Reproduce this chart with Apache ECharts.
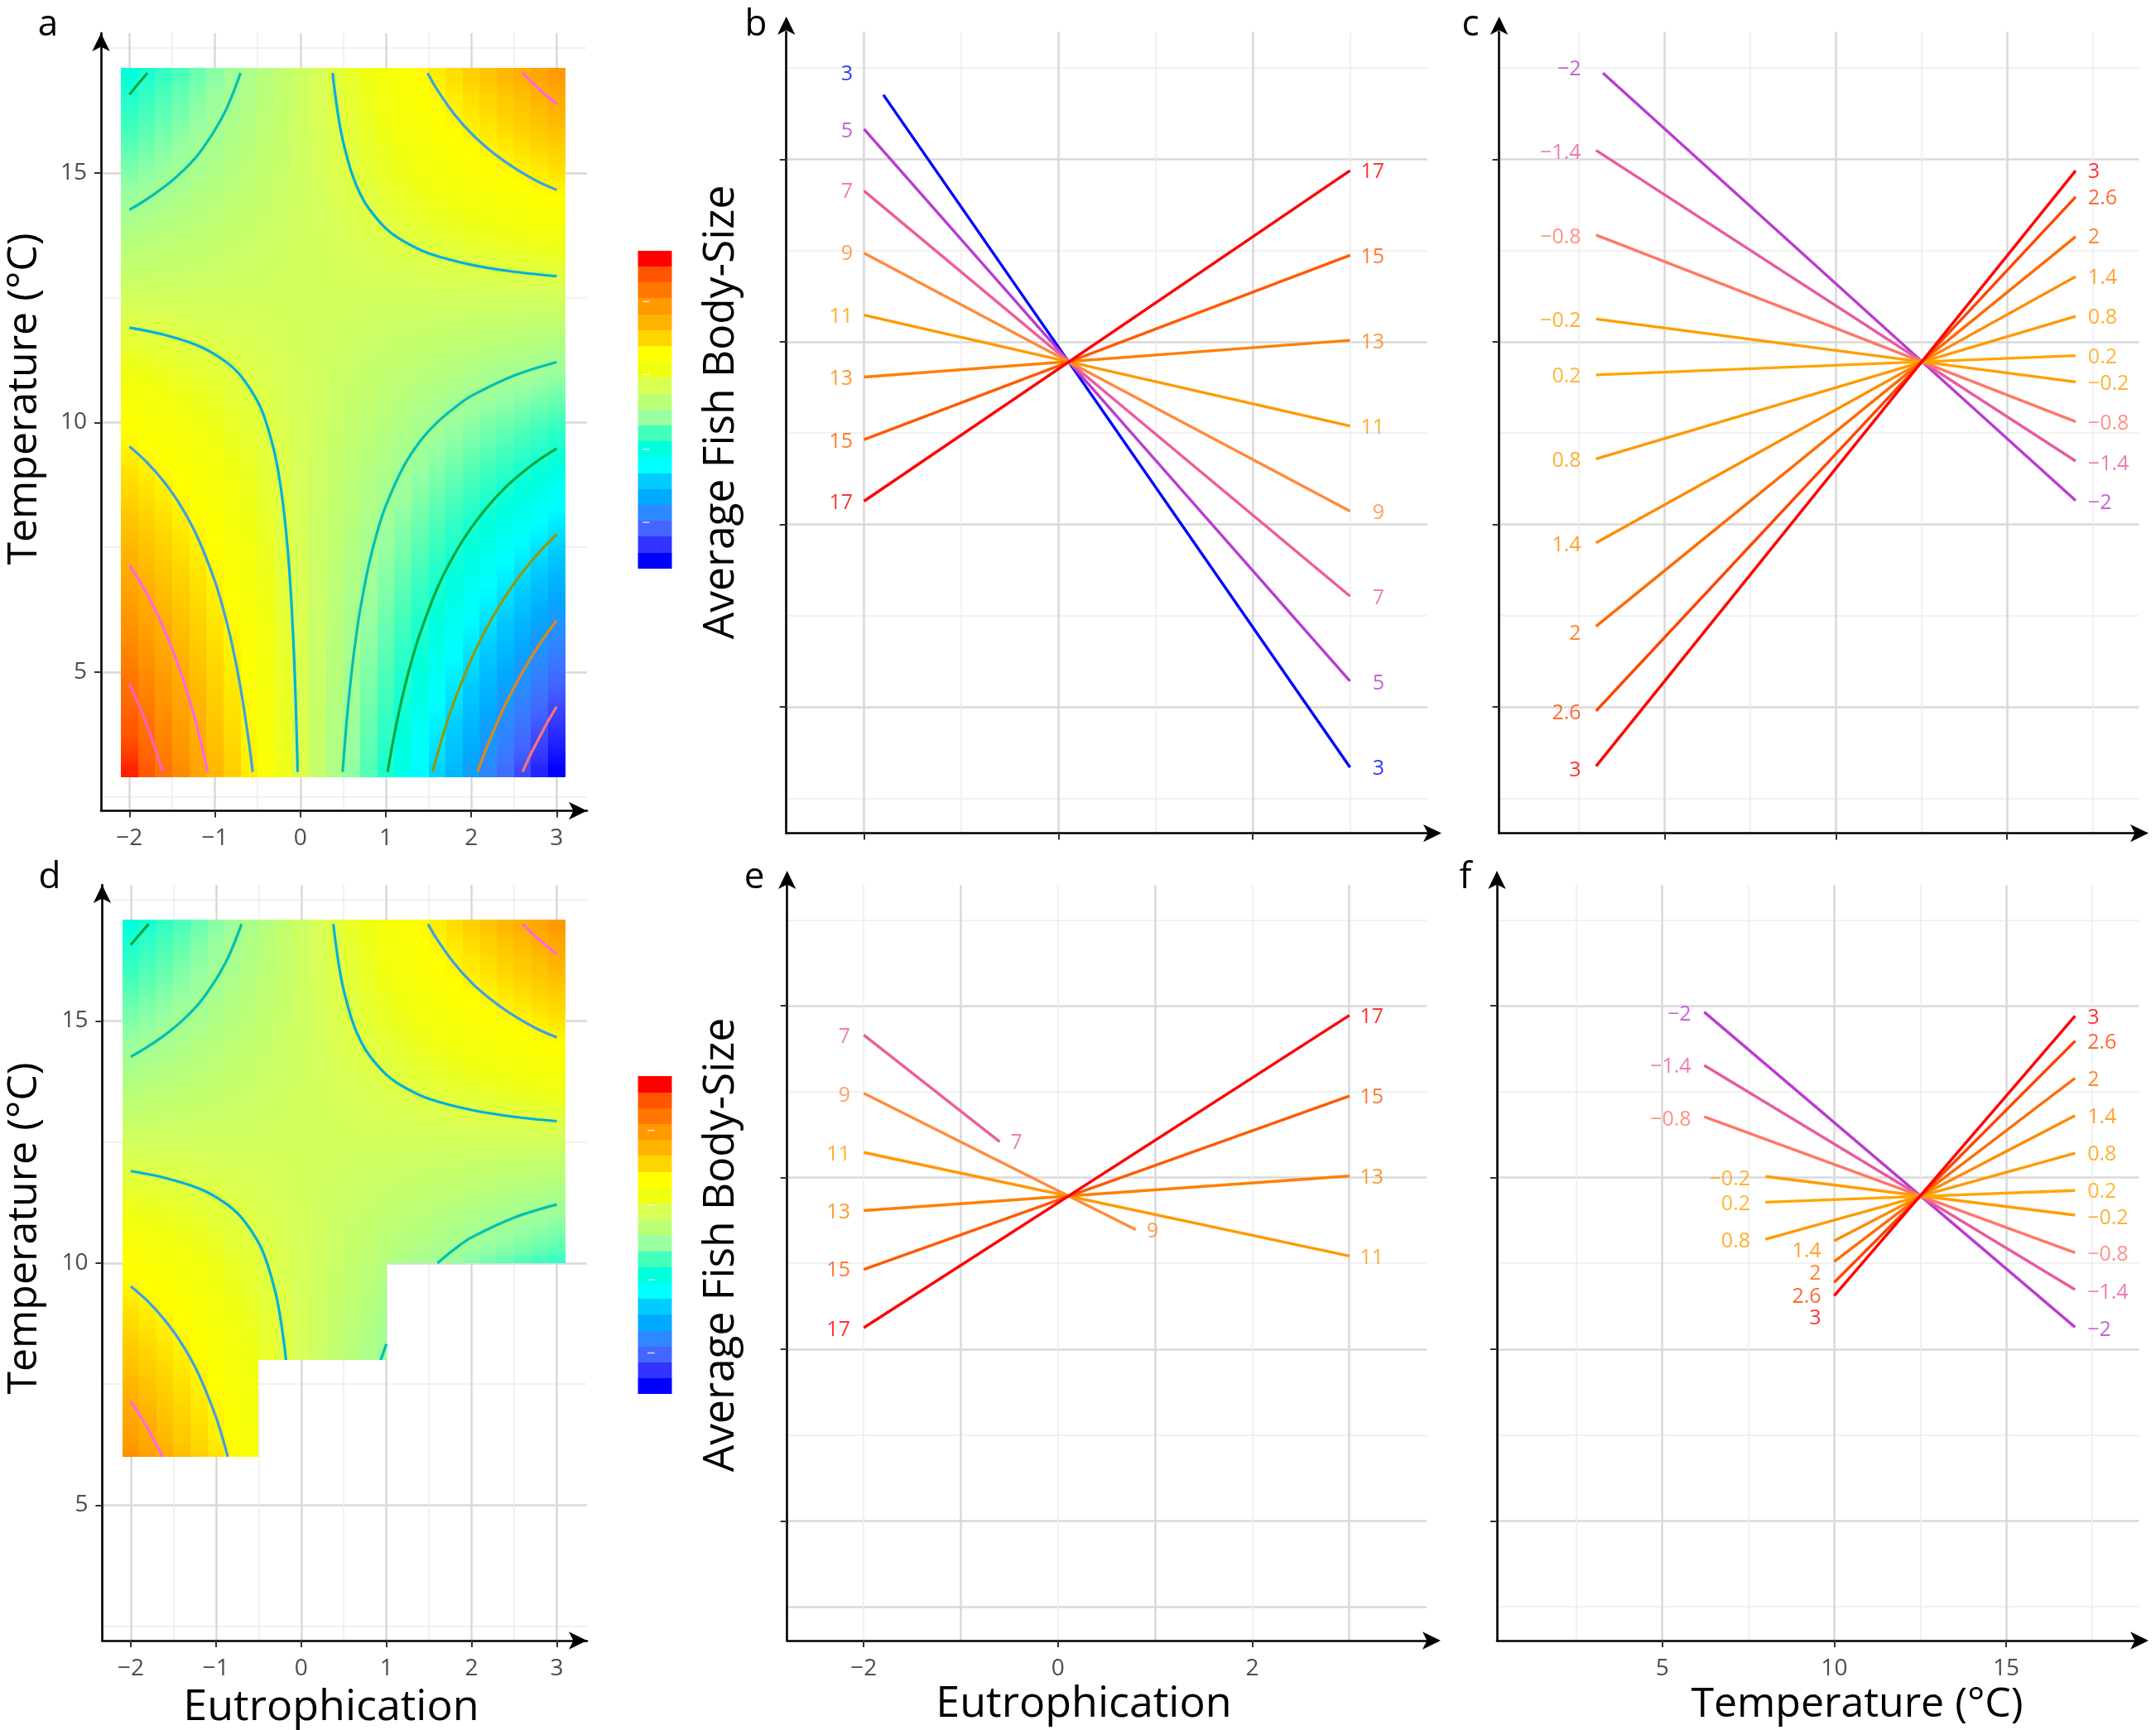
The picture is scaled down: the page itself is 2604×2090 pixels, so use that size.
<!DOCTYPE html>
<html><head><meta charset="utf-8">
<style>html,body{margin:0;padding:0;background:#fff}#c{width:2604px;height:2090px}</style>
<script src="https://cdn.jsdelivr.net/npm/echarts@6/dist/echarts.min.js"></script>
</head><body><div id="c"></div>
<script>
const heatE = [-2,-1.8,-1.6,-1.4,-1.2,-1,-0.8,-0.6,-0.4,-0.2,0,0.2,0.4,0.6,0.8,1,1.2,1.4,1.6,1.8,2,2.2,2.4,2.6,2.8,3];
const heatT = [3,3.5,4,4.5,5,5.5,6,6.5,7,7.5,8,8.5,9,9.5,10,10.5,11,11.5,12,12.5,13,13.5,14,14.5,15,15.5,16,16.5,17];
const heatRows = [
[20,18.1,16.2,14.3,12.4,10.5,8.6,6.7,4.8,2.9,1,-1,-2.9,-4.8,-6.7,-8.6,-10.5,-12.4,-14.3,-16.2,-18.1,-20,-21.9,-23.8,-25.7,-27.6],
[18.9,17.1,15.3,13.5,11.7,9.9,8.1,6.3,4.5,2.7,0.9,-0.9,-2.7,-4.5,-6.3,-8.1,-9.9,-11.7,-13.5,-15.3,-17.1,-18.9,-20.7,-22.5,-24.3,-26.1],
[17.9,16.2,14.5,12.8,11.1,9.4,7.7,6,4.3,2.6,0.9,-0.9,-2.6,-4.3,-6,-7.7,-9.4,-11.1,-12.8,-14.5,-16.2,-17.9,-19.6,-21.3,-23,-24.7],
[16.8,15.2,13.6,12,10.4,8.8,7.2,5.6,4,2.4,0.8,-0.8,-2.4,-4,-5.6,-7.2,-8.8,-10.4,-12,-13.6,-15.2,-16.8,-18.4,-20,-21.6,-23.2],
[15.8,14.3,12.8,11.3,9.8,8.3,6.8,5.3,3.8,2.3,0.8,-0.8,-2.3,-3.8,-5.3,-6.8,-8.3,-9.8,-11.3,-12.8,-14.3,-15.8,-17.3,-18.8,-20.3,-21.8],
[14.7,13.3,11.9,10.5,9.1,7.7,6.3,4.9,3.5,2.1,0.7,-0.7,-2.1,-3.5,-4.9,-6.3,-7.7,-9.1,-10.5,-11.9,-13.3,-14.7,-16.1,-17.5,-18.9,-20.3],
[13.7,12.4,11.1,9.8,8.5,7.2,5.9,4.6,3.3,2,0.7,-0.7,-2,-3.3,-4.6,-5.9,-7.2,-8.5,-9.8,-11.1,-12.4,-13.7,-15,-16.3,-17.6,-18.9],
[12.6,11.4,10.2,9,7.8,6.6,5.4,4.2,3,1.8,0.6,-0.6,-1.8,-3,-4.2,-5.4,-6.6,-7.8,-9,-10.2,-11.4,-12.6,-13.8,-15,-16.2,-17.4],
[11.6,10.5,9.4,8.3,7.2,6.1,5,3.9,2.8,1.7,0.6,-0.6,-1.7,-2.8,-3.9,-5,-6.1,-7.2,-8.3,-9.4,-10.5,-11.6,-12.7,-13.8,-14.9,-16],
[10.5,9.5,8.5,7.5,6.5,5.5,4.5,3.5,2.5,1.5,0.5,-0.5,-1.5,-2.5,-3.5,-4.5,-5.5,-6.5,-7.5,-8.5,-9.5,-10.5,-11.5,-12.5,-13.5,-14.5],
[9.5,8.6,7.7,6.8,5.9,5,4.1,3.2,2.3,1.4,0.5,-0.5,-1.4,-2.3,-3.2,-4.1,-5,-5.9,-6.8,-7.7,-8.6,-9.5,-10.4,-11.3,-12.2,-13.1],
[8.4,7.6,6.8,6,5.2,4.4,3.6,2.8,2,1.2,0.4,-0.4,-1.2,-2,-2.8,-3.6,-4.4,-5.2,-6,-6.8,-7.6,-8.4,-9.2,-10,-10.8,-11.6],
[7.4,6.7,6,5.3,4.6,3.9,3.2,2.5,1.8,1.1,0.4,-0.4,-1.1,-1.8,-2.5,-3.2,-3.9,-4.6,-5.3,-6,-6.7,-7.4,-8.1,-8.8,-9.5,-10.2],
[6.3,5.7,5.1,4.5,3.9,3.3,2.7,2.1,1.5,0.9,0.3,-0.3,-0.9,-1.5,-2.1,-2.7,-3.3,-3.9,-4.5,-5.1,-5.7,-6.3,-6.9,-7.5,-8.1,-8.7],
[5.3,4.8,4.3,3.8,3.3,2.8,2.3,1.8,1.3,0.8,0.3,-0.3,-0.8,-1.3,-1.8,-2.3,-2.8,-3.3,-3.8,-4.3,-4.8,-5.3,-5.8,-6.3,-6.8,-7.3],
[4.2,3.8,3.4,3,2.6,2.2,1.8,1.4,1,0.6,0.2,-0.2,-0.6,-1,-1.4,-1.8,-2.2,-2.6,-3,-3.4,-3.8,-4.2,-4.6,-5,-5.4,-5.8],
[3.2,2.9,2.6,2.3,2,1.7,1.4,1.1,0.8,0.5,0.2,-0.2,-0.5,-0.8,-1.1,-1.4,-1.7,-2,-2.3,-2.6,-2.9,-3.2,-3.5,-3.8,-4.1,-4.4],
[2.1,1.9,1.7,1.5,1.3,1.1,0.9,0.7,0.5,0.3,0.1,-0.1,-0.3,-0.5,-0.7,-0.9,-1.1,-1.3,-1.5,-1.7,-1.9,-2.1,-2.3,-2.5,-2.7,-2.9],
[1.1,1,0.9,0.8,0.7,0.6,0.5,0.4,0.3,0.2,0.1,-0.1,-0.2,-0.3,-0.4,-0.5,-0.6,-0.7,-0.8,-0.9,-1,-1.1,-1.2,-1.3,-1.4,-1.5],
[0,0,0,0,0,0,0,0,0,0,0,0,0,0,0,0,0,0,0,0,0,0,0,0,0,0],
[-1.1,-1,-0.9,-0.8,-0.7,-0.6,-0.5,-0.4,-0.3,-0.2,-0.1,0.1,0.2,0.3,0.4,0.5,0.6,0.7,0.8,0.9,1,1.1,1.2,1.3,1.4,1.5],
[-2.1,-1.9,-1.7,-1.5,-1.3,-1.1,-0.9,-0.7,-0.5,-0.3,-0.1,0.1,0.3,0.5,0.7,0.9,1.1,1.3,1.5,1.7,1.9,2.1,2.3,2.5,2.7,2.9],
[-3.2,-2.9,-2.6,-2.3,-2,-1.7,-1.4,-1.1,-0.8,-0.5,-0.2,0.2,0.5,0.8,1.1,1.4,1.7,2,2.3,2.6,2.9,3.2,3.5,3.8,4.1,4.4],
[-4.2,-3.8,-3.4,-3,-2.6,-2.2,-1.8,-1.4,-1,-0.6,-0.2,0.2,0.6,1,1.4,1.8,2.2,2.6,3,3.4,3.8,4.2,4.6,5,5.4,5.8],
[-5.3,-4.8,-4.3,-3.8,-3.3,-2.8,-2.3,-1.8,-1.3,-0.8,-0.3,0.3,0.8,1.3,1.8,2.3,2.8,3.3,3.8,4.3,4.8,5.3,5.8,6.3,6.8,7.3],
[-6.3,-5.7,-5.1,-4.5,-3.9,-3.3,-2.7,-2.1,-1.5,-0.9,-0.3,0.3,0.9,1.5,2.1,2.7,3.3,3.9,4.5,5.1,5.7,6.3,6.9,7.5,8.1,8.7],
[-7.4,-6.7,-6,-5.3,-4.6,-3.9,-3.2,-2.5,-1.8,-1.1,-0.4,0.4,1.1,1.8,2.5,3.2,3.9,4.6,5.3,6,6.7,7.4,8.1,8.8,9.5,10.2],
[-8.4,-7.6,-6.8,-6,-5.2,-4.4,-3.6,-2.8,-2,-1.2,-0.4,0.4,1.2,2,2.8,3.6,4.4,5.2,6,6.8,7.6,8.4,9.2,10,10.8,11.6],
[-9.5,-8.6,-7.7,-6.8,-5.9,-5,-4.1,-3.2,-2.3,-1.4,-0.5,0.5,1.4,2.3,3.2,4.1,5,5.9,6.8,7.7,8.6,9.5,10.4,11.3,12.2,13.1]
];
// colour bar levels, bottom to top
const levelColors = ['#0000ff','#3333ff','#4466ff','#2e88ff','#00aaff','#00ccff','#00ffff','#00ffdd','#44ffbb','#99ffa0','#bbff77','#d9ff55','#f0ff10','#ffff00','#ffd500','#ffb300','#ff9900','#ff7700','#ff5500','#ff0000'];
const barTicksA = [2.9,7.5,12.2,16.8];
const barTicksD = [2.6,7.2,11.9,16.6];

// ---------- contour lines, [Eutrophication, Temperature] ----------
const llA = [[-2,11.9],[-1.6,11.76],[-1.2,11.54],[-0.9,11.25],[-0.7,10.94],[-0.5,10.42],[-0.4,10],[-0.3,9.38],[-0.25,8.93],[-0.2,8.33],[-0.15,7.5],[-0.12,6.82],[-0.1,6.25],[-0.08,5.56],[-0.06,4.69],[-0.04,3.57],[-0.032,3]];
const llB = [[-2,9.52],[-1.8,9.21],[-1.6,8.82],[-1.4,8.33],[-1.2,7.69],[-1,6.82],[-0.9,6.25],[-0.8,5.56],[-0.7,4.69],[-0.6,3.57],[-0.558,3]];
const llC = [[-2,7.14],[-1.9,6.88],[-1.8,6.58],[-1.7,6.25],[-1.6,5.88],[-1.5,5.47],[-1.4,5],[-1.3,4.46],[-1.2,3.85],[-1.084,3]];
const llD = [[-2,4.76],[-1.9,4.38],[-1.8,3.95],[-1.7,3.47],[-1.61,3]];
const urA = [[0.378,17],[0.4,16.67],[0.45,16.07],[0.5,15.63],[0.6,15],[0.7,14.58],[0.8,14.29],[1,13.89],[1.2,13.64],[1.5,13.39],[2,13.16],[2.5,13.02],[3,12.93]];
const urB = [[1.489,17],[1.6,16.67],[1.8,16.18],[2,15.79],[2.2,15.48],[2.4,15.22],[2.6,15],[2.8,14.81],[3,14.66]];
const urC = [[2.6,17],[2.7,16.83],[2.8,16.67],[2.9,16.52],[3,16.38]];
const ulA = [[-2,14.26],[-1.8,14.47],[-1.6,14.71],[-1.4,15],[-1.2,15.36],[-1,15.86],[-0.85,16.34],[-0.7,17]];
const ulB = [[-2,16.57],[-1.9,16.78],[-1.79,17]];
const lrA = [[0.495,3],[0.5,3.13],[0.55,4.17],[0.6,5],[0.65,5.68],[0.7,6.25],[0.8,7.14],[0.9,7.81],[1,8.33],[1.2,9.09],[1.4,9.62],[1.6,10],[1.8,10.29],[2,10.53],[2.5,10.94],[3,11.21]];
const lrB = [[1.021,3],[1.1,3.75],[1.2,4.55],[1.3,5.21],[1.4,5.77],[1.6,6.67],[1.8,7.35],[2,7.89],[2.2,8.33],[2.4,8.7],[2.6,9],[2.8,9.26],[3,9.48]];
const lrC = [[1.547,3],[1.6,3.33],[1.7,3.91],[1.8,4.41],[2,5.26],[2.2,5.95],[2.4,6.52],[2.6,7],[2.8,7.41],[3,7.76]];
const lrD = [[2.074,3],[2.2,3.57],[2.4,4.35],[2.6,5],[2.8,5.56],[3,6.03]];
const lrE = [[2.6,3],[2.7,3.37],[2.8,3.7],[2.9,4.02],[3,4.31]];
// panel d: the same contours where the heat map is kept
const dLlA = [[-2,11.9],[-1.6,11.76],[-1.2,11.54],[-0.9,11.25],[-0.7,10.94],[-0.5,10.42],[-0.4,10],[-0.3,9.38],[-0.25,8.93],[-0.2,8.33],[-0.178,8]];
const dLlB = [[-2,9.52],[-1.8,9.21],[-1.6,8.82],[-1.4,8.33],[-1.2,7.69],[-1,6.82],[-0.9,6.25],[-0.862,6]];
const dLlC = [[-2,7.14],[-1.9,6.88],[-1.8,6.58],[-1.7,6.25],[-1.63,6]];
const dLrA1 = [[0.933,8],[1,8.33]];
const dLrA2 = [[1.6,10],[1.8,10.29],[2,10.53],[2.5,10.94],[3,11.21]];
// lowest kept temperature of panel d, by eutrophication limit
const dMaskLimitE = [-0.5,1,3.1];
const dMaskLowT = [6,8,10];

// ---------- panel b: body size vs eutrophication, one line per temperature ----------
const bNames = ['3','5','7','9','11','13','15','17'];
const bStartE = [-1.8,-2,-2,-2,-2,-2,-2,-2];
const bStartV = [4.352,4.165,3.826,3.486,3.146,2.807,2.464,2.127];
const bEndV = [0.67,1.142,1.607,2.073,2.539,3.008,3.474,3.937];
const bNameLeftV = [4.469,4.159,3.826,3.486,3.143,2.801,2.458,2.121];
const bNameRightV = [0.67,1.136,1.604,2.07,2.536,3.002,3.471,3.937];
// panel c: body size vs temperature, one line per eutrophication level
const cNames = ['\u22122','\u22121.4','\u22120.8','\u22120.2','0.2','0.8','1.4','2','2.6','3'];
const cStartT = [3.2,3,3,3,3,3,3,3,3,3];
const cStartV = [4.472,4.048,3.585,3.125,2.819,2.359,1.899,1.442,0.979,0.676];
const cEndV = [2.13,2.347,2.563,2.78,2.924,3.14,3.357,3.576,3.793,3.937];
const cNameLeftV = [4.499,4.042,3.579,3.122,2.816,2.356,1.893,1.409,0.97,0.658];
const cNameRightV = [2.121,2.338,2.557,2.774,2.921,3.14,3.357,3.576,3.79,3.937];
// panel e
const eNames = ['7','9','11','13','15','17'];
const eStartV = [3.83,3.491,3.146,2.807,2.464,2.125];
const eEndE = [-0.6,0.8,3,3,3,3];
const eEndV = [3.208,2.696,2.543,3.009,3.475,3.945];
const eNameLeftV = [3.824,3.485,3.142,2.803,2.464,2.119];
const eNameEndE = [-0.489,0.913,3.353,3.353,3.353,3.353];
const eNameEndV = [3.208,2.693,2.536,3.006,3.472,3.941];
// panel f
const fNames = cNames;
const fStartT = [6.22,6.22,6.22,8,8,8,10,10,10,10];
const fStartV = [3.964,3.654,3.354,3.006,2.856,2.64,2.631,2.51,2.389,2.311];
const fEndV = [2.128,2.347,2.562,2.781,2.924,3.142,3.361,3.579,3.795,3.941];
const fNameLeftT = [5.84,5.84,5.84,7.56,7.56,7.56,9.62,9.62,9.62,9.62];
const fNameLeftV = [3.958,3.654,3.345,2.996,2.852,2.634,2.578,2.445,2.311,2.187];
const fNameRightV = [2.119,2.334,2.556,2.768,2.924,3.139,3.358,3.573,3.791,3.938];

// ---------- styles ----------
const FONT = '"Open Sans"';
const tempColors = {'3':'#0000ff','5':'#b83cd2','7':'#ee5c9c','9':'#ff8a3c','11':'#ff9900','13':'#ff7f00','15':'#ff5a00','17':'#ff0000'};
const eutColors = {'\u22122':'#b93cd0','\u22121.4':'#e85aa0','\u22120.8':'#ff7766','\u22120.2':'#ff9d00','0.2':'#ffa500','0.8':'#ff9a00','1.4':'#ff8a00','2':'#ff6a00','2.6':'#ff4500','3':'#ff0000'};
const MAJOR = {color:'#d9d9d9',width:2.5};
const MINOR = {color:'#ececec',width:1.5};
const SCALE_MIN = -27.5, SCALE_MAX = 21;

const option = {animation:false,backgroundColor:'#fff',grid:[],xAxis:[],yAxis:[],series:[],graphic:{elements:[]}};

function fmt(v){return String(v).replace('-','\u2212');}
function colorOf(v){
  return echarts.color.lerp(Math.max(0,Math.min(1,(v-SCALE_MIN)/(SCALE_MAX-SCALE_MIN))),levelColors);
}
function addPanel(p){
  const g = option.grid.length;
  option.grid.push({left:p.left,top:p.top,width:p.right-p.left,height:p.bottom-p.top,containLabel:false});
  const xIdx = option.xAxis.length, yIdx = option.yAxis.length;
  p.xLines.forEach((ln,i)=>{
    option.xAxis.push({type:'value',gridIndex:g,min:p.xMin,max:p.xMax,scale:true,position:'bottom',
      axisLine:{show:i===0,onZero:false,symbol:['none','arrow'],symbolSize:[16,22],symbolOffset:[0,p.xArrow],lineStyle:{color:'#000',width:2.6}},
      axisTick:{show:i===0,length:8,customValues:i===0?p.xTicks:ln.values,lineStyle:{color:'#333',width:2}},
      axisLabel:{show:i===0&&p.xLabels,customValues:p.xTicks,formatter:fmt,margin:20,color:'#4d4d4d',fontSize:28,fontFamily:FONT},
      splitLine:{show:true,lineStyle:ln.style},minorTick:{show:false},z:1});
  });
  p.yLines.forEach((ln,i)=>{
    option.yAxis.push({type:'value',gridIndex:g,min:p.yMin,max:p.yMax,scale:true,position:'left',
      axisLine:{show:i===0,onZero:false,symbol:['none','arrow'],symbolSize:[16,22],symbolOffset:[0,p.yArrow],lineStyle:{color:'#000',width:2.6}},
      axisTick:{show:i===0,length:8,customValues:i===0?p.yTicks:ln.values,lineStyle:{color:'#333',width:2}},
      axisLabel:{show:i===0&&p.yLabels,customValues:p.yTicks,formatter:fmt,margin:17,color:'#4d4d4d',fontSize:28,fontFamily:FONT},
      splitLine:{show:true,lineStyle:ln.style},z:1});
  });
  return {x:xIdx,y:yIdx};
}
function heatData(){
  const out=[];
  heatT.forEach((t,r)=>heatE.forEach((e,c)=>out.push([e,t,heatRows[r][c],r,c])));
  return out;
}
function addHeat(ax,limitE,lowT){
  option.series.push({type:'custom',xAxisIndex:ax.x,yAxisIndex:ax.y,z:2,clip:true,silent:true,
    data:heatData(),encode:{x:0,y:1},
    renderItem:function(params,api){
      const e=api.value(0),t=api.value(1),v=api.value(2),r=api.value(3),c=api.value(4);
      const up=r<heatT.length-1?heatRows[r+1][c]:v, dn=r>0?heatRows[r-1][c]:v;
      const fill=new echarts.graphic.LinearGradient(0,0,0,1,[
        {offset:0,color:colorOf((v+up)/2)},{offset:0.5,color:colorOf(v)},{offset:1,color:colorOf((v+dn)/2)}]);
      const children=[];
      const halfE=0.1,halfT=0.25,edgeLow=2.9,edgeHigh=17.1;
      const spans = limitE ? limitE.map((lim,i)=>[i?limitE[i-1]:-2.1,lim,lowT[i]]) : [[-2.1,3.1,edgeLow]];
      spans.forEach(s=>{
        const x0=Math.max(e-halfE,s[0]),x1=Math.min(e+halfE,s[1]);
        const y0=Math.max(t-halfT,s[2],edgeLow),y1=Math.min(t+halfT,edgeHigh);
        if(x1<=x0||y1<=y0)return;
        const a=api.coord([x0,y1]),b=api.coord([x1,y0]);
        const l=Math.round(a[0]),rr=Math.round(b[0]),tp=Math.round(a[1]),bt=Math.round(b[1]);
        children.push({type:'rect',shape:{x:l,y:tp,width:rr-l,height:bt-tp},style:{fill}});
      });
      return {type:'group',children};
    }});
}
function addLine(ax,data,color,w,smooth){
  option.series.push({type:'line',xAxisIndex:ax.x,yAxisIndex:ax.y,data,smooth:smooth?0.35:false,symbol:'none',z:3,silent:true,
    lineStyle:{color,width:w||3.4,cap:'butt'}});
}
function addNames(ax,names,xs,vs,align,colors){
  option.series.push({type:'scatter',xAxisIndex:ax.x,yAxisIndex:ax.y,symbolSize:1,z:4,silent:true,clip:false,itemStyle:{color:'rgba(0,0,0,0)'},
    data:names.map((n,i)=>({value:[Array.isArray(xs)?xs[i]:xs,vs[i]],name:n,
      label:{show:true,position:'inside',offset:[0,1.5],formatter:n,align,verticalAlign:'middle',color:colors[n],fontSize:25,fontFamily:FONT}}))});
}
function addBar(top,ticks,tx0,tx1){
  const g=option.grid.length;
  option.grid.push({left:770.5,width:41,top,height:384});
  const x=option.xAxis.length,y=option.yAxis.length;
  option.xAxis.push({type:'value',gridIndex:g,min:0,max:1,show:false});
  option.yAxis.push({type:'value',gridIndex:g,min:0,max:20,show:false});
  option.series.push({type:'custom',xAxisIndex:x,yAxisIndex:y,silent:true,z:2,clip:false,
    data:levelColors.map((c,i)=>[i]),
    renderItem:function(params,api){
      const i=api.value(0),a=api.coord([0,i+1]),b=api.coord([1,i]);
      return {type:'rect',shape:{x:a[0],y:Math.round(a[1]),width:b[0]-a[0],height:Math.round(b[1])-Math.round(a[1])},style:{fill:levelColors[i]}};
    }});
  option.series.push({type:'custom',xAxisIndex:x,yAxisIndex:y,silent:true,z:3,clip:false,
    data:ticks.map(v=>[v]),
    renderItem:function(params,api){
      const a=api.coord([tx0,api.value(0)]),b=api.coord([tx1,api.value(0)]);
      return {type:'line',shape:{x1:a[0],y1:a[1],x2:b[0],y2:b[1]},style:{stroke:'rgba(255,255,255,0.75)',lineWidth:1.5}};
    }});
}
function title(text,x,y,vertical,size){
  option.graphic.elements.push({type:'text',x,y,rotation:vertical?Math.PI/2:0,silent:true,z:20,
    style:{text,fill:'#000',font:size+'px '+FONT,textAlign:'center',textVerticalAlign:'middle'}});
}

// ---------- panels ----------
const gridEuMinor = {values:[-1.5,-0.5,0.5,1.5,2.5],style:MINOR};
const gridT = {values:[5,10,15],style:MAJOR};
const gridTMinor = {values:[2.5,7.5,12.5,17.5],style:MINOR};
const gridV = {values:[1,2,3,4],style:MAJOR};
const gridVMinor = {values:[0.5,1.5,2.5,3.5,4.5],style:MINOR};

const A = addPanel({left:122,right:709,top:40,bottom:979.5,xMin:-2.333,xMax:3.355,yMin:2.222,yMax:17.8,
  xTicks:[-2,-1,0,1,2,3],yTicks:[5,10,15],xLabels:true,yLabels:true,xArrow:0,yArrow:0,
  xLines:[{values:[-2,-1,0,1,2,3],style:MAJOR},gridEuMinor],yLines:[gridT,gridTMinor]});
const B = addPanel({left:949.7,right:1724,top:38.5,bottom:1006.6,xMin:-2.799,xMax:3.796,yMin:0.309,yMax:4.697,
  xTicks:[-2,0,2],yTicks:[1,2,3,4],xLabels:false,yLabels:false,xArrow:17,yArrow:18.5,
  xLines:[{values:[-2,0,2],style:MAJOR},{values:[-1,1,3],style:MINOR}],yLines:[gridV,gridVMinor]});
const C = addPanel({left:1810.6,right:2583.5,top:38.5,bottom:1006.6,xMin:0.168,xMax:18.85,yMin:0.309,yMax:4.697,
  xTicks:[5,10,15],yTicks:[1,2,3,4],xLabels:false,yLabels:false,xArrow:11.5,yArrow:18.5,
  xLines:[gridT,gridTMinor],yLines:[gridV,gridVMinor]});
const D = addPanel({left:123.4,right:709,top:1069,bottom:1982,xMin:-2.336,xMax:3.355,yMin:2.205,yMax:17.81,
  xTicks:[-2,-1,0,1,2,3],yTicks:[5,10,15],xLabels:true,yLabels:true,xArrow:0,yArrow:0,
  xLines:[{values:[-2,-1,0,1,2,3],style:MAJOR},gridEuMinor],yLines:[gridT,gridTMinor]});
const E = addPanel({left:950.7,right:1723,top:1069,bottom:1982,xMin:-2.789,xMax:3.795,yMin:0.302,yMax:4.705,
  xTicks:[-2,0,2],yTicks:[1,2,3,4],xLabels:true,yLabels:false,xArrow:17,yArrow:17,
  xLines:[{values:[-2,0,2],style:MINOR},{values:[-1,1,3],style:MAJOR}],
  yLines:[gridV,{values:[1.5,2.5,3.5,4.5],style:MINOR},{values:[0.5],style:MAJOR}]});
const F = addPanel({left:1808,right:2583.5,top:1069,bottom:1982,xMin:0.195,xMax:18.86,yMin:0.302,yMax:4.705,
  xTicks:[5,10,15],yTicks:[1,2,3,4],xLabels:true,yLabels:false,xArrow:11.5,yArrow:17,
  xLines:[gridT,gridTMinor],yLines:[gridV,gridVMinor]});

addHeat(A);
addHeat(D,dMaskLimitE,dMaskLowT);

const CON = {a:'#ff5fc0',b:'#ff66e0',c:'#3f9fe8',d:'#00b0dc',e:'#00bfb0',f:'#00a83a',g:'#8f9a10',h:'#da8a1a',i:'#ff7272'};
[[llD,CON.a],[llC,CON.b],[llB,CON.c],[llA,CON.d],[urA,CON.d],[urB,CON.c],[urC,CON.b],[ulA,CON.e],[ulB,CON.f],[lrA,CON.e],[lrB,CON.f],[lrC,CON.g],[lrD,CON.h],[lrE,CON.i]]
  .forEach(c=>addLine(A,c[0],c[1],3.2,true));
[[dLlC,CON.b],[dLlB,CON.c],[dLlA,CON.d],[urA,CON.d],[urB,CON.c],[urC,CON.b],[ulA,CON.e],[ulB,CON.f],[dLrA1,CON.e],[dLrA2,CON.e]]
  .forEach(c=>addLine(D,c[0],c[1],3.2,true));

bNames.forEach((n,i)=>addLine(B,[[bStartE[i],bStartV[i]],[3,bEndV[i]]],tempColors[n]));
addNames(B,bNames,-2.115,bNameLeftV,'right',tempColors);
addNames(B,bNames,3.354,bNameRightV,'right',tempColors);

cNames.forEach((n,i)=>addLine(C,[[cStartT[i],cStartV[i]],[17,cEndV[i]]],eutColors[n]));
addNames(C,cNames,2.56,cNameLeftV,'right',eutColors);
addNames(C,cNames,17.36,cNameRightV,'left',eutColors);

eNames.forEach((n,i)=>addLine(E,[[-2,eStartV[i]],[eEndE[i],eEndV[i]]],tempColors[n]));
addNames(E,eNames,-2.139,eNameLeftV,'right',tempColors);
addNames(E,eNames.slice(0,2),eNameEndE.slice(0,2),eNameEndV.slice(0,2),'left',tempColors);
addNames(E,eNames.slice(2),eNameEndE.slice(2),eNameEndV.slice(2),'right',tempColors);

fNames.forEach((n,i)=>addLine(F,[[fStartT[i],fStartV[i]],[17,fEndV[i]]],eutColors[n]));
addNames(F,fNames,fNameLeftT,fNameLeftV,'right',eutColors);
addNames(F,fNames,17.36,fNameRightV,'left',eutColors);

addBar(302.7,barTicksA,0.14,0.34);
addBar(1300.4,barTicksD,0.28,0.49);

title('Temperature (\u00b0C)',30,482,true,50);
title('Temperature (\u00b0C)',30,1484,true,50);
title('Average Fish Body-Size',871,498,true,51.5);
title('Average Fish Body-Size',871,1504,true,51.5);
title('Eutrophication',400,2063.5,false,52);
title('Eutrophication',1309,2059.5,false,52);
title('Temperature (\u00b0C)',2243,2059.5,false,50);
title('a',58,30,false,44);
title('b',913,30,false,44);
title('c',1776,30,false,44);
title('d',60,1060,false,44);
title('e',911,1060,false,44);
title('f',1770,1060,false,44);

echarts.init(document.getElementById('c'),null,{renderer:'canvas'}).setOption(option);
</script></body></html>
